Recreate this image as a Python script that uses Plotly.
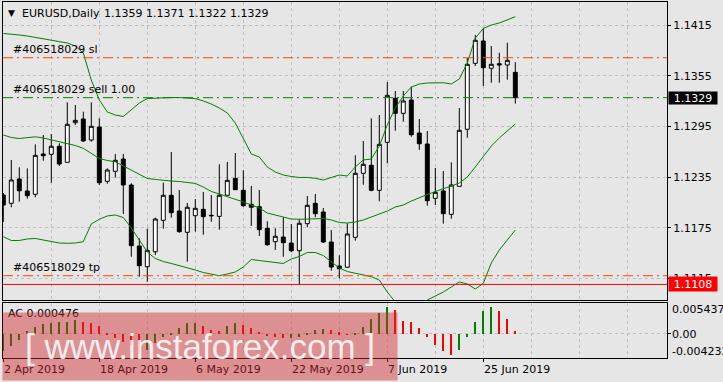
import plotly.graph_objects as go

# ---------------- data ----------------
bar_index = list(range(65))  # daily bars, 2 Apr 2019 .. 1 Jul 2019

opens = [1.12138, 1.12040, 1.12328, 1.12186, 1.12147, 1.12624, 1.12620, 1.12715, 1.12525, 1.12994,
         1.13038, 1.12789, 1.12943, 1.12300, 1.12419, 1.12564, 1.12257, 1.11535, 1.11290, 1.11467,
         1.11839, 1.12135, 1.11949, 1.11697, 1.11893, 1.11969, 1.11898, 1.11886, 1.12135, 1.12336,
         1.12194, 1.12028, 1.12000, 1.11744, 1.11586, 1.11641, 1.11570, 1.11479, 1.11799, 1.12040,
         1.11937, 1.11582, 1.11298, 1.11283, 1.11638, 1.12395, 1.12490, 1.12194, 1.12762, 1.13283,
         1.13105, 1.13263, 1.12872, 1.12742, 1.12099, 1.12186, 1.11910, 1.12241, 1.12916, 1.13697,
         1.13961, 1.13638, 1.13692, 1.13677, 1.1359]
highs = [1.12162, 1.12553, 1.12466, 1.12454, 1.12738, 1.12848, 1.12860, 1.12750, 1.13235, 1.13203,
         1.13124, 1.13235, 1.13046, 1.12454, 1.12624, 1.12624, 1.12277, 1.11626, 1.11740, 1.11870,
         1.12284, 1.12647, 1.12198, 1.12044, 1.12091, 1.12174, 1.12138, 1.12502, 1.12529, 1.12635,
         1.12431, 1.12245, 1.12198, 1.11827, 1.11744, 1.11875, 1.11795, 1.11851, 1.12127, 1.12150,
         1.11985, 1.11724, 1.11425, 1.11804, 1.12608, 1.12777, 1.13046, 1.13085, 1.13476, 1.13369,
         1.13369, 1.13420, 1.13038, 1.12896, 1.12458, 1.12422, 1.12525, 1.13168, 1.13763, 1.14032,
         1.14111, 1.13902, 1.13822, 1.13941, 1.1371]
lows = [1.11819, 1.11993, 1.12059, 1.12095, 1.12111, 1.12544, 1.12284, 1.12482, 1.12525, 1.12967,
        1.12769, 1.12769, 1.12257, 1.12272, 1.12343, 1.11914, 1.11408, 1.11172, 1.11112, 1.11428,
        1.11740, 1.11870, 1.11692, 1.11349, 1.11704, 1.11669, 1.11822, 1.11728, 1.12135, 1.12198,
        1.12000, 1.11772, 1.11653, 1.11538, 1.11488, 1.11408, 1.11460, 1.11085, 1.11756, 1.11875,
        1.11570, 1.11243, 1.11153, 1.11275, 1.11598, 1.12260, 1.12182, 1.12064, 1.12514, 1.12899,
        1.13006, 1.12828, 1.12671, 1.12012, 1.12020, 1.11799, 1.11858, 1.12241, 1.12816, 1.13665,
        1.13428, 1.13467, 1.13467, 1.13503, 1.1322]
closes = [1.12020, 1.12316, 1.12189, 1.12130, 1.12608, 1.12603, 1.12715, 1.12505, 1.12975, 1.13022,
          1.12777, 1.12951, 1.12284, 1.12434, 1.12549, 1.12257, 1.11538, 1.11302, 1.11484, 1.11854,
          1.12135, 1.11929, 1.11704, 1.11993, 1.11981, 1.11882, 1.11893, 1.12135, 1.12312, 1.12201,
          1.12012, 1.11993, 1.11728, 1.11550, 1.11650, 1.11574, 1.11479, 1.11804, 1.12016, 1.11917,
          1.11582, 1.11286, 1.11266, 1.11677, 1.12395, 1.12502, 1.12194, 1.12738, 1.13318, 1.13105,
          1.13251, 1.12852, 1.12745, 1.12071, 1.12170, 1.11917, 1.12257, 1.12904, 1.13685, 1.13969,
          1.13645, 1.13685, 1.13677, 1.13732, 1.1329]

bb_upper = [1.14050, 1.14044, 1.14032, 1.14020, 1.14002, 1.13985, 1.13973, 1.13955, 1.13937, 1.13902,
            1.13819, 1.13499, 1.13263, 1.13121, 1.13085, 1.13067, 1.13144, 1.13227, 1.13280, 1.13286,
            1.13292, 1.13292, 1.13292, 1.13286, 1.13280, 1.13251, 1.13215, 1.13168, 1.13109, 1.12990,
            1.12801, 1.12624, 1.12588, 1.12470, 1.12411, 1.12375, 1.12357, 1.12346, 1.12346, 1.12336,
            1.12316, 1.12346, 1.12375, 1.12363, 1.12470, 1.12553, 1.12564, 1.12718, 1.12967, 1.13168,
            1.13310, 1.13416, 1.13452, 1.13464, 1.13467, 1.13467, 1.13452, 1.13511, 1.13700, 1.13996,
            1.14109, 1.14150, 1.14174, 1.14209, 1.14248]
bb_middle = [1.12848, 1.12819, 1.12807, 1.12819, 1.12827, 1.12813, 1.12789, 1.12771, 1.12750, 1.12724,
             1.12691, 1.12635, 1.12570, 1.12547, 1.12531, 1.12482, 1.12434, 1.12381, 1.12334, 1.12322,
             1.12310, 1.12304, 1.12298, 1.12286, 1.12275, 1.12233, 1.12180, 1.12150, 1.12121, 1.12091,
             1.12056, 1.12020, 1.11985, 1.11925, 1.11902, 1.11878, 1.11854, 1.11851, 1.11854, 1.11860,
             1.11860, 1.11843, 1.11813, 1.11807, 1.11819, 1.11843, 1.11878, 1.11914, 1.11949, 1.11996,
             1.12020, 1.12067, 1.12109, 1.12144, 1.12180, 1.12209, 1.12245, 1.12280, 1.12351, 1.12470,
             1.12588, 1.12718, 1.12813, 1.12896, 1.12979]
bb_lower = [1.11645, 1.11600, 1.11600, 1.11618, 1.11624, 1.11606, 1.11588, 1.11570, 1.11567, 1.11570,
            1.11586, 1.11795, 1.11851, 1.11890, 1.11902, 1.11872, 1.11748, 1.11606, 1.11464, 1.11387,
            1.11351, 1.11328, 1.11304, 1.11280, 1.11251, 1.11221, 1.11198, 1.11183, 1.11204, 1.11227,
            1.11286, 1.11375, 1.11363, 1.11349, 1.11340, 1.11328, 1.11381, 1.11411, 1.11458, 1.11458,
            1.11422, 1.11346, 1.11275, 1.11233, 1.11213, 1.11192, 1.11172, 1.11132, 1.10990, 1.10872,
            1.10801, 1.10766, 1.10825, 1.10896, 1.10943, 1.10990, 1.11050, 1.11109, 1.11085, 1.11026,
            1.11093, 1.11334, 1.11488, 1.11606, 1.11724]

ac_values = [-0.00296, -0.00209, -0.00104, 0.00052, 0.00122, 0.00174, 0.00186, 0.00203, 0.00214, 0.00243,
             0.00203, 0.00197, 0.00139, 0.00012, -0.00075, -0.00134, -0.00191, -0.00348, -0.00278, -0.00162,
             -0.00052, 0.00017, 0.00113, 0.00186, 0.00197, 0.00139, 0.00075, 0.00061, 0.00139, 0.00197,
             0.00162, 0.00104, 0.00035, -0.00017, -0.00047, -0.00070, -0.00061, -0.00043, 0.00023, 0.00070,
             0.00087, 0.00070, 0.00030, -0.00005, 0.00012, 0.00127, 0.00261, 0.00377, 0.00475, 0.00417,
             0.00226, 0.00209, 0.00104, -0.00047, -0.00191, -0.00296, -0.00360, -0.00278, -0.00047, 0.00209,
             0.00400, 0.00470, 0.00400, 0.00261, 0.000476]

date_tick_index = [0, 12, 24, 36, 48, 60]
date_tick_labels = ["2 Apr 2019", "18 Apr 2019", "6 May 2019", "22 May 2019", "7 Jun 2019", "25 Jun 2019"]
price_ticks = [1.1115, 1.1175, 1.1235, 1.1295, 1.1355, 1.1415]

order_id = "#406518029"
sl_level = 1.13763
entry_level = 1.1329
tp_level = 1.11183
alert_level = 1.1108
ac_top = 0.005437
ac_bottom = -0.004232

# ---------------- styling ----------------
BG = "#e6e6e6"
GRID = "#c0c0c0"
GRID_DASH = "3px,3px"
GREEN = "#008000"
ORANGE = "#ff4500"
FONT = "DejaVu Sans"

W, H = 723, 382
ML, MR, MT, MB = 3, 56, 2, 24
PW, PH = W - ML - MR, H - MT - MB


def px_x(p):
    return (p - ML) / PW


def px_y(p):
    return (H - MB - p) / PH


fig = go.Figure()

fig.add_trace(go.Candlestick(
    x=bar_index, open=opens, high=highs, low=lows, close=closes,
    xaxis="x2", yaxis="y2", whiskerwidth=0,
    increasing=dict(line=dict(color="black", width=1), fillcolor="white"),
    decreasing=dict(line=dict(color="black", width=1), fillcolor="black"),
    hoverinfo="skip", showlegend=False))

for band in (bb_upper, bb_middle, bb_lower):
    fig.add_trace(go.Scatter(x=bar_index, y=band, mode="lines", xaxis="x2", yaxis="y2",
                             line=dict(color=GREEN, width=1), hoverinfo="skip", showlegend=False))

ac_colors = [GREEN if (i == 0 or ac_values[i] > ac_values[i - 1]) else "#ff0000"
             for i in range(len(ac_values))]
fig.add_trace(go.Bar(x=bar_index, y=ac_values, marker=dict(color=ac_colors, line=dict(width=0)),
                     width=0.14, xaxis="x", yaxis="y", hoverinfo="skip", showlegend=False))

x_range = [-0.0375, -0.0375 + PW / 8.0]
minor_grid = dict(tickvals=[6, 18, 30, 42, 54, 66, 72, 78], showgrid=True, gridcolor=GRID,
                  griddash=GRID_DASH, gridwidth=1, ticks="")
common_x = dict(range=x_range, showline=True, mirror=True, linecolor="black", linewidth=1,
                showgrid=True, gridcolor=GRID, griddash=GRID_DASH, gridwidth=1, zeroline=False,
                tickvals=date_tick_index, showticklabels=False, minor=minor_grid, fixedrange=True)

main_bottom = px_y(300)
sub_top = px_y(302.7)

fig.update_layout(
    width=W, height=H, margin=dict(l=ML, r=MR, t=MT, b=MB),
    paper_bgcolor=BG, plot_bgcolor=BG, showlegend=False, bargap=0,
    font=dict(family=FONT, size=11, color="black"),
    xaxis=dict(domain=[0, 1], anchor="y", ticks="outside", ticklen=3, tickcolor="black", **common_x),
    xaxis2=dict(domain=[0, 1], anchor="y2", matches="x", ticks="", rangeslider=dict(visible=False),
                **common_x),
    yaxis=dict(domain=[0, sub_top], anchor="x", range=[ac_bottom, ac_top], side="right",
               showline=True, mirror=True, linecolor="black", linewidth=1,
               tickvals=[0], showticklabels=False, ticks="outside", ticklen=3, tickcolor="black",
               showgrid=True, gridcolor=GRID, griddash=GRID_DASH, zeroline=False, fixedrange=True),
    yaxis2=dict(domain=[main_bottom, 1], anchor="x2",
                range=[1.14446 - 300 * 0.00011834, 1.14446 - 2 * 0.00011834], side="right",
                showline=True, mirror=True, linecolor="black", linewidth=1,
                tickvals=price_ticks, tickformat=".4f", ticks="outside", ticklen=3, tickcolor="black",
                tickfont=dict(family=FONT, size=11, color="black"),
                showgrid=True, gridcolor=GRID, griddash=GRID_DASH, zeroline=False, fixedrange=True),
)

ORDER_DASH = "10px,4px,2px,4px"
for lvl, col, dash in ((sl_level, ORANGE, ORDER_DASH), (entry_level, GREEN, ORDER_DASH),
                       (tp_level, ORANGE, ORDER_DASH), (alert_level, "#ff0000", "solid")):
    fig.add_shape(type="line", xref="x2 domain", x0=0, x1=1, yref="y2", y0=lvl, y1=lvl,
                  line=dict(color=col, width=1, dash=dash), layer="above")

ann = []


def txt(text, x, y, xanchor="left", yanchor="middle", size=11, color="black", **kw):
    d = dict(text=text, x=x, y=y, xref=kw.pop("xref", "paper"), yref=kw.pop("yref", "paper"),
             xanchor=xanchor, yanchor=yanchor, showarrow=False,
             font=dict(family=kw.pop("family", FONT), size=size, color=color))
    d.update(kw)
    ann.append(d)


# header
txt("▼", px_x(11), px_y(13), xanchor="center", size=9)
txt("EURUSD,Daily", px_x(20.7), px_y(13), xshift=-1)
txt(f"{opens[-1]:.4f} {highs[-1]:.4f} {lows[-1]:.4f} {closes[-1]:.4f}", px_x(102.7), px_y(13), xshift=-1)

# order labels
txt(f"{order_id} sl", px_x(11.7), sl_level, yref="y2", yanchor="bottom", xshift=-1)
txt(f"{order_id} sell 1.00", px_x(11.7), entry_level, yref="y2", yanchor="bottom", xshift=-1)
txt(f"{order_id} tp", px_x(11.7), tp_level, yref="y2", yanchor="bottom", xshift=-1)

# price boxes on the right axis
txt(f"{closes[-1]:.4f}", px_x(668), closes[-1], yref="y2", color="white",
    bgcolor="black", width=47, height=11, borderpad=0.5, align="center")
txt(f"{alert_level:.4f}", px_x(668), alert_level, yref="y2", color="white",
    bgcolor="#ff0000", width=47, height=13, borderpad=0.5, align="center")

# AC panel labels
txt(f"AC {ac_values[-1]:.6f}", px_x(7.3), px_y(313.5), xshift=-1)
txt(f"{ac_top:.6f}", px_x(670.7), px_y(309), xshift=-1)
txt("0.00", px_x(670.7), px_y(334), xshift=-1)
txt(f"{ac_bottom:.6f}", px_x(670.7), px_y(351), xshift=-1)

# date labels
for i, lab in zip(date_tick_index, date_tick_labels):
    txt(lab, i, px_y(369), xref="x", xshift=-1)

# watermark overlay (drawn last, on top)
txt("[ www.instaforex.com ]", px_x(200), px_y(346.7), xanchor="center", size=35,
    color="rgba(255,255,255,0.85)", family="Liberation Sans, Arial",
    bgcolor="rgba(210,40,45,0.45)", width=392, height=65, borderpad=1, align="center")

fig.update_layout(annotations=ann)

fig.write_html("out.html")
